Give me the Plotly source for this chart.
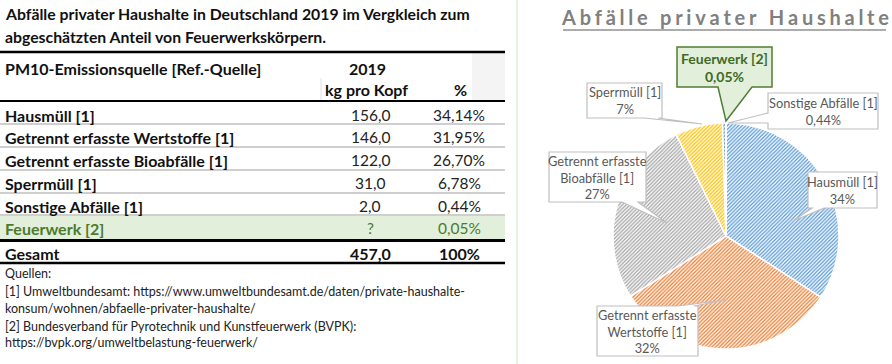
import plotly.graph_objects as go

W, H = 892, 364

# ---------------- data ----------------
categories = ["Hausmüll [1]", "Getrennt erfasste Wertstoffe [1]", "Getrennt erfasste Bioabfälle [1]",
              "Sperrmüll [1]", "Sonstige Abfälle [1]", "Feuerwerk [2]"]
kg_pro_kopf = [156.0, 146.0, 122.0, 31.0, 2.0, None]
percent = [34.14, 31.95, 26.70, 6.78, 0.44, 0.05]
total_label = "Gesamt"
total_kg = 457.0
total_pct = 100
year = "2019"
header_source = "PM10-Emissionsquelle [Ref.-Quelle]"
header_kg = "kg pro Kopf"
header_pct = "%"
table_title = ["Abfälle privater Haushalte in Deutschland 2019 im Vergkleich zum",
               "abgeschätzten Anteil von Feuerwerkskörpern."]
sources = ["Quellen:",
           "[1] Umweltbundesamt: https://www.umweltbundesamt.de/daten/private-haushalte-",
           "konsum/wohnen/abfaelle-privater-haushalte/",
           "[2] Bundesverband für Pyrotechnik und Kunstfeuerwerk (BVPK):",
           "https://bvpk.org/umweltbelastung-feuerwerk/"]
pie_title = "Abfälle privater Haushalte"

# ---------------- styles ----------------
FONT = "Lato"
pie_colors = ["#5B9BD5", "#ED7D31", "#A5A5A5", "#FFC000", "#4472C4", "#70AD47"]
GREEN_TXT = "#4E7A2E"
GREEN_FILL = "#E2EFDA"


def X(px):
    return px / W


def Y(py):
    return 1 - py / H


def de(v, d):
    return f"{v:.{d}f}".replace(".", ",")


fig = go.Figure()

# ---------------- pie ----------------
cx, cy, r = 726, 236, 113
fig.add_trace(go.Pie(
    values=percent, labels=categories, sort=False, direction="clockwise", rotation=0,
    textinfo="none", hoverinfo="skip", showlegend=False,
    marker=dict(colors=["white"] * len(percent),
                line=dict(color="white", width=1.5),
                pattern=dict(shape="/", fgcolor=pie_colors, bgcolor=["white"] * len(percent),
                             size=2.6, solidity=0.5)),
    domain=dict(x=[X(cx - r), X(cx + r)], y=[Y(cy + r), Y(cy - r)]),
))

shapes = []
ann = []


def text(px, py, s, size=16, color="#111", bold=False, anchor="left", family=FONT):
    ann.append(dict(x=X(px), y=Y(py), xref="paper", yref="paper", text=(f"<b>{s}</b>" if bold else s),
                    showarrow=False, xanchor=anchor, yanchor="middle",
                    font=dict(family=family, size=size, color=color)))


def hline(x0, x1, y, color, width):
    shapes.append(dict(type="line", xref="paper", yref="paper", x0=X(x0), x1=X(x1), y0=Y(y), y1=Y(y),
                       line=dict(color=color, width=width)))


def rect(x0, y0, x1, y1, fill):
    shapes.append(dict(type="rect", xref="paper", yref="paper", x0=X(x0), x1=X(x1), y0=Y(y1), y1=Y(y0),
                       fillcolor=fill, line=dict(width=0), layer="below"))


# ---------------- table ----------------
shapes.append(dict(type="line", xref="paper", yref="paper", x0=X(517), x1=X(517), y0=0, y1=1,
                   line=dict(color="#E2EFDA", width=1.5)))

text(3, 14, table_title[0], size=15.8, bold=True)
text(3, 37, table_title[1], size=15.8, bold=True)

rect(472, 53, 505, 100, "#F4F4F4")
hline(0, 505, 52, "#000", 2.5)
text(3, 68, header_source, bold=True)
text(367, 68, year, bold=True, anchor="center")
text(366, 89, header_kg, bold=True, anchor="center")
text(460, 89, header_pct, bold=True, anchor="center")
shapes.append(dict(type="line", xref="paper", yref="paper", x0=X(321), x1=X(321), y0=Y(78), y1=Y(100),
                   line=dict(color="#E0E0E0", width=1)))
hline(0, 505, 101, "#000", 2)

row_y = [115, 137, 160, 183, 206, 228]
sep_y = [124, 147, 170, 193, 215]
rect(0, 216, 505, 239, GREEN_FILL)
for y in sep_y:
    hline(0, 505, y, "#BFBFBF", 1.5)
for i, cat in enumerate(categories):
    is_fw = cat.startswith("Feuerwerk")
    col = GREEN_TXT if is_fw else "#111"
    text(3, row_y[i], cat, bold=True, color=col)
    kg = "?" if kg_pro_kopf[i] is None else de(kg_pro_kopf[i], 1)
    text(370, row_y[i], kg, size=15.5, color=(GREEN_TXT if is_fw else "#222"), anchor="center")
    text(459, row_y[i], de(percent[i], 2) + "%", size=15.5, color=(GREEN_TXT if is_fw else "#222"),
         anchor="center")
hline(0, 505, 240.5, "#000", 3)
text(3, 253, total_label, bold=True)
text(370, 253, de(total_kg, 1), bold=True, anchor="center")
text(459, 253, f"{total_pct}%", bold=True, anchor="center")
hline(0, 505, 263, "#000", 2.5)

src_y = [273, 291, 308, 326, 342]
for s, y in zip(sources, src_y):
    text(3, y, s, size=12.5, color="#222")

# ---------------- pie title (letter-spaced) ----------------
spaced_title = "\u2009\u200a".join(pie_title)
text(725, 17, spaced_title, size=20, bold=True, color="#808080", anchor="center")
hline(563, 886, 30, "#909090", 1.5)


# ---------------- callouts ----------------
def pie_label(i):
    name = categories[i].replace("erfasste ", "erfasste<br>")
    p = percent[i]
    ps = de(p, 2) + "%" if p < 1 else f"{round(p)}%"
    return f"{name}<br>{ps}"


# box (x0, y0, x1, y1), edge with wedge, wedge base (a, b), tip
callouts = [
    (0, (808, 172, 877, 208), "bottom", (812, 824), (793, 221)),
    (1, (597, 306, 698, 356), "top", (678, 694), (725, 300)),
    (2, (549, 152, 646, 202), "bottom", (622, 638), (667, 223)),
    (3, (587, 83, 662, 118), "bottom", (644, 658), (702, 124)),
    (4, (768, 93, 878, 129), "left", (113, 123), (728, 123)),
    (5, (677, 47, 772, 87), "bottom", (718, 752), (726, 121)),
]

for i, (x0, y0, x1, y1), edge, (a, b), (tx, ty) in callouts:
    if edge == "bottom":
        pts = [(x0, y0), (x1, y0), (x1, y1), (b, y1), (tx, ty), (a, y1), (x0, y1)]
    elif edge == "top":
        pts = [(x0, y0), (a, y0), (tx, ty), (b, y0), (x1, y0), (x1, y1), (x0, y1)]
    else:  # left
        pts = [(x0, y0), (x1, y0), (x1, y1), (x0, y1), (x0, b), (tx, ty), (x0, a)]
    path = "M " + " L ".join(f"{X(px):.5f},{Y(py):.5f}" for px, py in pts) + " Z"
    fw = categories[i].startswith("Feuerwerk")
    shapes.append(dict(type="path", xref="paper", yref="paper", path=path, layer="above",
                       fillcolor=(GREEN_FILL if fw else "white"),
                       line=dict(color=("#507E32" if fw else "#BFBFBF"), width=(1.5 if fw else 1.2))))
    lbl = pie_label(i)
    ann.append(dict(x=X((x0 + x1) / 2), y=Y((y0 + y1) / 2), xref="paper", yref="paper",
                    text=(f"<b>{lbl}</b>" if fw else lbl), showarrow=False,
                    xanchor="center", yanchor="middle", align="center",
                    font=dict(family=FONT, size=(14 if fw else 12.8), color=("#3F6A26" if fw else "#595959"))))

fig.update_layout(
    width=W, height=H, margin=dict(l=0, r=0, t=0, b=0),
    paper_bgcolor="white", plot_bgcolor="white",
    shapes=shapes, annotations=ann,
)
fig.write_html("out.html", config={"displayModeBar": False},
               post_script="document.body.style.margin='0';")
